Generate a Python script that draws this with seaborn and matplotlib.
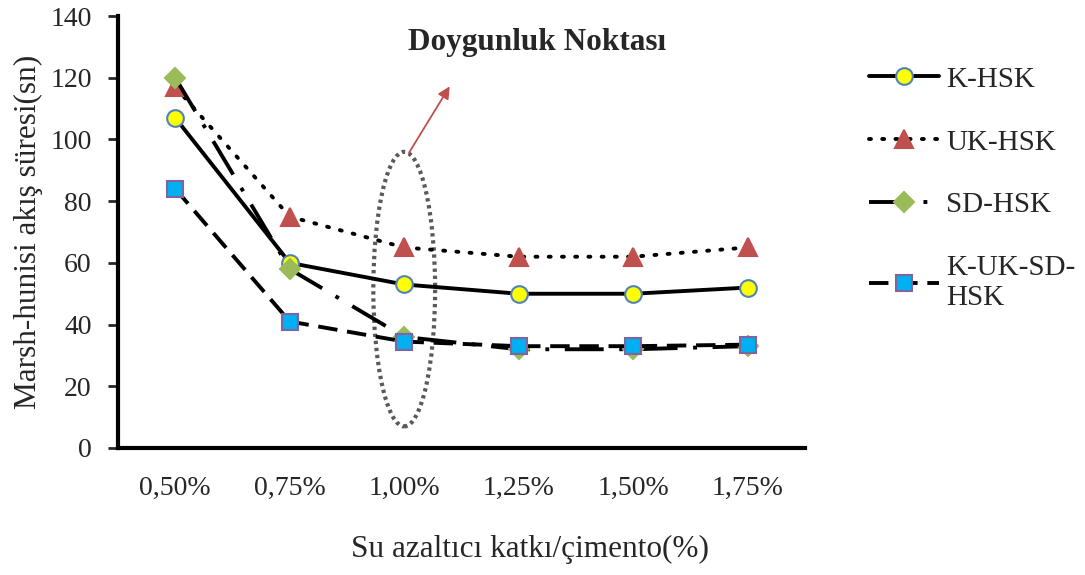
import pandas as pd
import seaborn as sns
import matplotlib.pyplot as plt
from matplotlib.patches import Ellipse

categories = ["0,50%", "0,75%", "1,00%", "1,25%", "1,50%", "1,75%"]
k_hsk = [107, 60, 53, 50, 50, 52]
uk_hsk = [117, 75, 65, 62, 62, 65]
sd_hsk = [120, 58, 36, 32, 32, 33]
k_uk_sd_hsk = [84, 41, 34.5, 33, 33, 33.5]

sns.set_theme(style="white")
plt.rcParams["font.family"] = ["Liberation Serif", "DejaVu Serif"]

fig = plt.figure(figsize=(10.85, 5.75), dpi=100)
ax = fig.add_axes([0.1088, 0.2209, 0.633, 0.7511])

pos = list(range(len(categories)))
series = [
    ("K-HSK", k_hsk, dict(linestyle="-", marker="o", markerfacecolor="#FFFF00",
                          markeredgecolor="#4F81BD", markersize=12)),
    ("UK-HSK", uk_hsk, dict(linestyle=(0, (0.5, 2.9)), dash_capstyle="round", marker="^",
                            markerfacecolor="#C0504D", markeredgecolor="#C0504D", markersize=13)),
    ("SD-HSK", sd_hsk, dict(linestyle=(0, (10, 4, 1, 4)), marker="D", markerfacecolor="#9BBB59",
                            markeredgecolor="#9BBB59", markersize=10)),
    ("K-UK-SD-\nHSK", k_uk_sd_hsk, dict(linestyle=(0, (5, 2.5)), marker="s", markerfacecolor="#00B0F0",
                                        markeredgecolor="#8064A2", markersize=12)),
]

for name, vals, kw in series:
    df = pd.DataFrame({"x": pos, "y": vals})
    sns.lineplot(data=df, x="x", y="y", ax=ax, color="black", linewidth=2.8,
                 markeredgewidth=1.5, label=name, **kw)

ax.set_xlim(-0.5, 5.5)
ax.set_ylim(0, 140)
ax.set_yticks(range(0, 141, 20))
ax.set_xticks(pos)
ax.set_xticklabels(categories)
ax.tick_params(axis="x", length=0, pad=20, labelsize=20)
ax.tick_params(axis="y", length=7, width=2, direction="out", pad=12, labelsize=20, left=True)
for side in ["top", "right"]:
    ax.spines[side].set_visible(False)
for side in ["left", "bottom"]:
    ax.spines[side].set_linewidth(3)
    ax.spines[side].set_color("black")

ax.set_xlabel("Su azaltıcı katkı/çimento(%)", fontsize=22.5)
ax.xaxis.set_label_coords(0.6, -0.236)
ax.xaxis.label.set_verticalalignment("center")
ax.set_ylabel("Marsh-hunisi akış süresi(sn)", fontsize=22.5, labelpad=5)

# saturation point marker
ell = Ellipse((2.0, 51.5), width=0.54, height=89, fill=False, edgecolor="#595959",
              linewidth=3, linestyle=(0, (0.8, 0.9)))
ax.add_patch(ell)
ax.annotate("", xy=(2.41, 118), xytext=(2.03, 95),
            arrowprops=dict(arrowstyle="-|>", color="#C0504D", lw=1.3, mutation_scale=18))
ax.text(3.16, 131.5, "Doygunluk Noktası", fontsize=22.5, fontweight="bold",
        ha="center", va="center")

leg = ax.legend(loc="upper left", bbox_to_anchor=(0.79, 0.905), bbox_transform=fig.transFigure,
                frameon=False, fontsize=21, handlelength=2.4, labelspacing=1.25,
                handletextpad=0.25, borderaxespad=0)

fig.savefig("out.png", dpi=100)
